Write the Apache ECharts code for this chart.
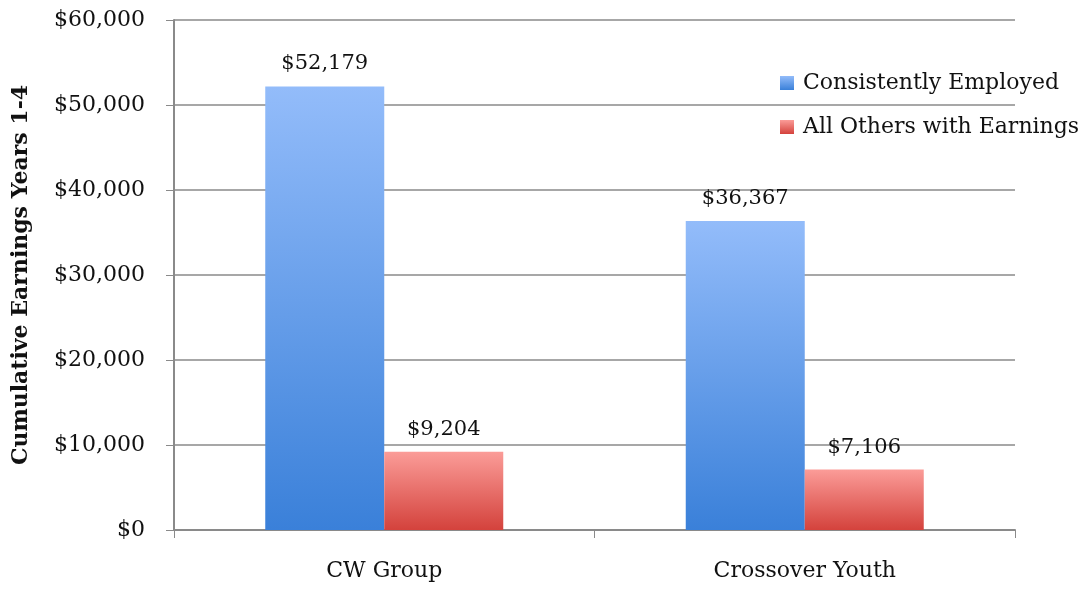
<!DOCTYPE html>
<html>
<head>
<meta charset="utf-8">
<script src="https://cdn.jsdelivr.net/npm/echarts@6/dist/echarts.min.js"></script>
<style>
  html, body { margin: 0; padding: 0; background: #fff; }
  #main { width: 1084px; height: 589px; }
</style>
</head>
<body>
<div id="main"></div>
<script>
const categories = ['CW Group', 'Crossover Youth']
const seriesNames = ['Consistently Employed', 'All Others with Earnings']
const employed = [52179, 36367]
const others = [9204, 7106]

const fontFamily = "'DejaVu Serif', 'Liberation Serif', serif"

function money (v) {
  return '$' + v.toLocaleString('en-US')
}

function grad (top, bottom) {
  return new echarts.graphic.LinearGradient(0, 0, 0, 1, [
    { offset: 0, color: top },
    { offset: 1, color: bottom }
  ])
}

const chart = echarts.init(document.getElementById('main'))

const labelOption = {
  show: true,
  position: 'top',
  distance: 12,
  fontFamily: fontFamily,
  fontSize: 21,
  color: '#111',
  formatter: p => money(p.value)
}

const option = {
  animation: false,
  grid: { left: 174, right: 69, top: 20, bottom: 59 },
  legend: {
    orient: 'vertical',
    left: 780,
    top: 72,
    padding: 0,
    itemWidth: 14,
    itemHeight: 14,
    itemGap: 22,
    icon: 'rect',
    textStyle: { fontFamily: fontFamily, fontSize: 22, color: '#111', padding: [0, 0, 0, 4] },
    data: seriesNames
  },
  xAxis: {
    type: 'category',
    data: categories,
    axisLine: { lineStyle: { color: '#8a8a8a', width: 2 } },
    axisTick: { show: true, length: 8, lineStyle: { color: '#8a8a8a', width: 1 } },
    axisLabel: { fontFamily: fontFamily, fontSize: 22, color: '#111', margin: 30 }
  },
  yAxis: {
    type: 'value',
    min: 0,
    max: 60000,
    interval: 10000,
    name: 'Cumulative Earnings Years 1-4',
    nameLocation: 'middle',
    nameGap: 142,
    nameTextStyle: { fontFamily: fontFamily, fontSize: 22, fontWeight: 'bold', color: '#111' },
    axisLine: { show: true, lineStyle: { color: '#8a8a8a', width: 2 } },
    axisTick: { show: true, length: 8, lineStyle: { color: '#8a8a8a' } },
    axisLabel: { fontFamily: fontFamily, fontSize: 22, color: '#111', margin: 29, formatter: v => money(v) },
    splitLine: { lineStyle: { color: '#8a8a8a', width: 1.5 } }
  },
  series: [
    {
      name: seriesNames[0],
      type: 'bar',
      data: employed,
      barWidth: 119,
      barGap: 0,
      itemStyle: { color: grad('#93bcfa', '#3a80d9') },
      label: labelOption
    },
    {
      name: seriesNames[1],
      type: 'bar',
      data: others,
      barWidth: 119,
      itemStyle: { color: grad('#fb9c98', '#d4423c') },
      label: labelOption
    }
  ]
}

chart.setOption(option)
window.addEventListener('resize', () => {
  chart.resize()
})
</script>
</body>
</html>
